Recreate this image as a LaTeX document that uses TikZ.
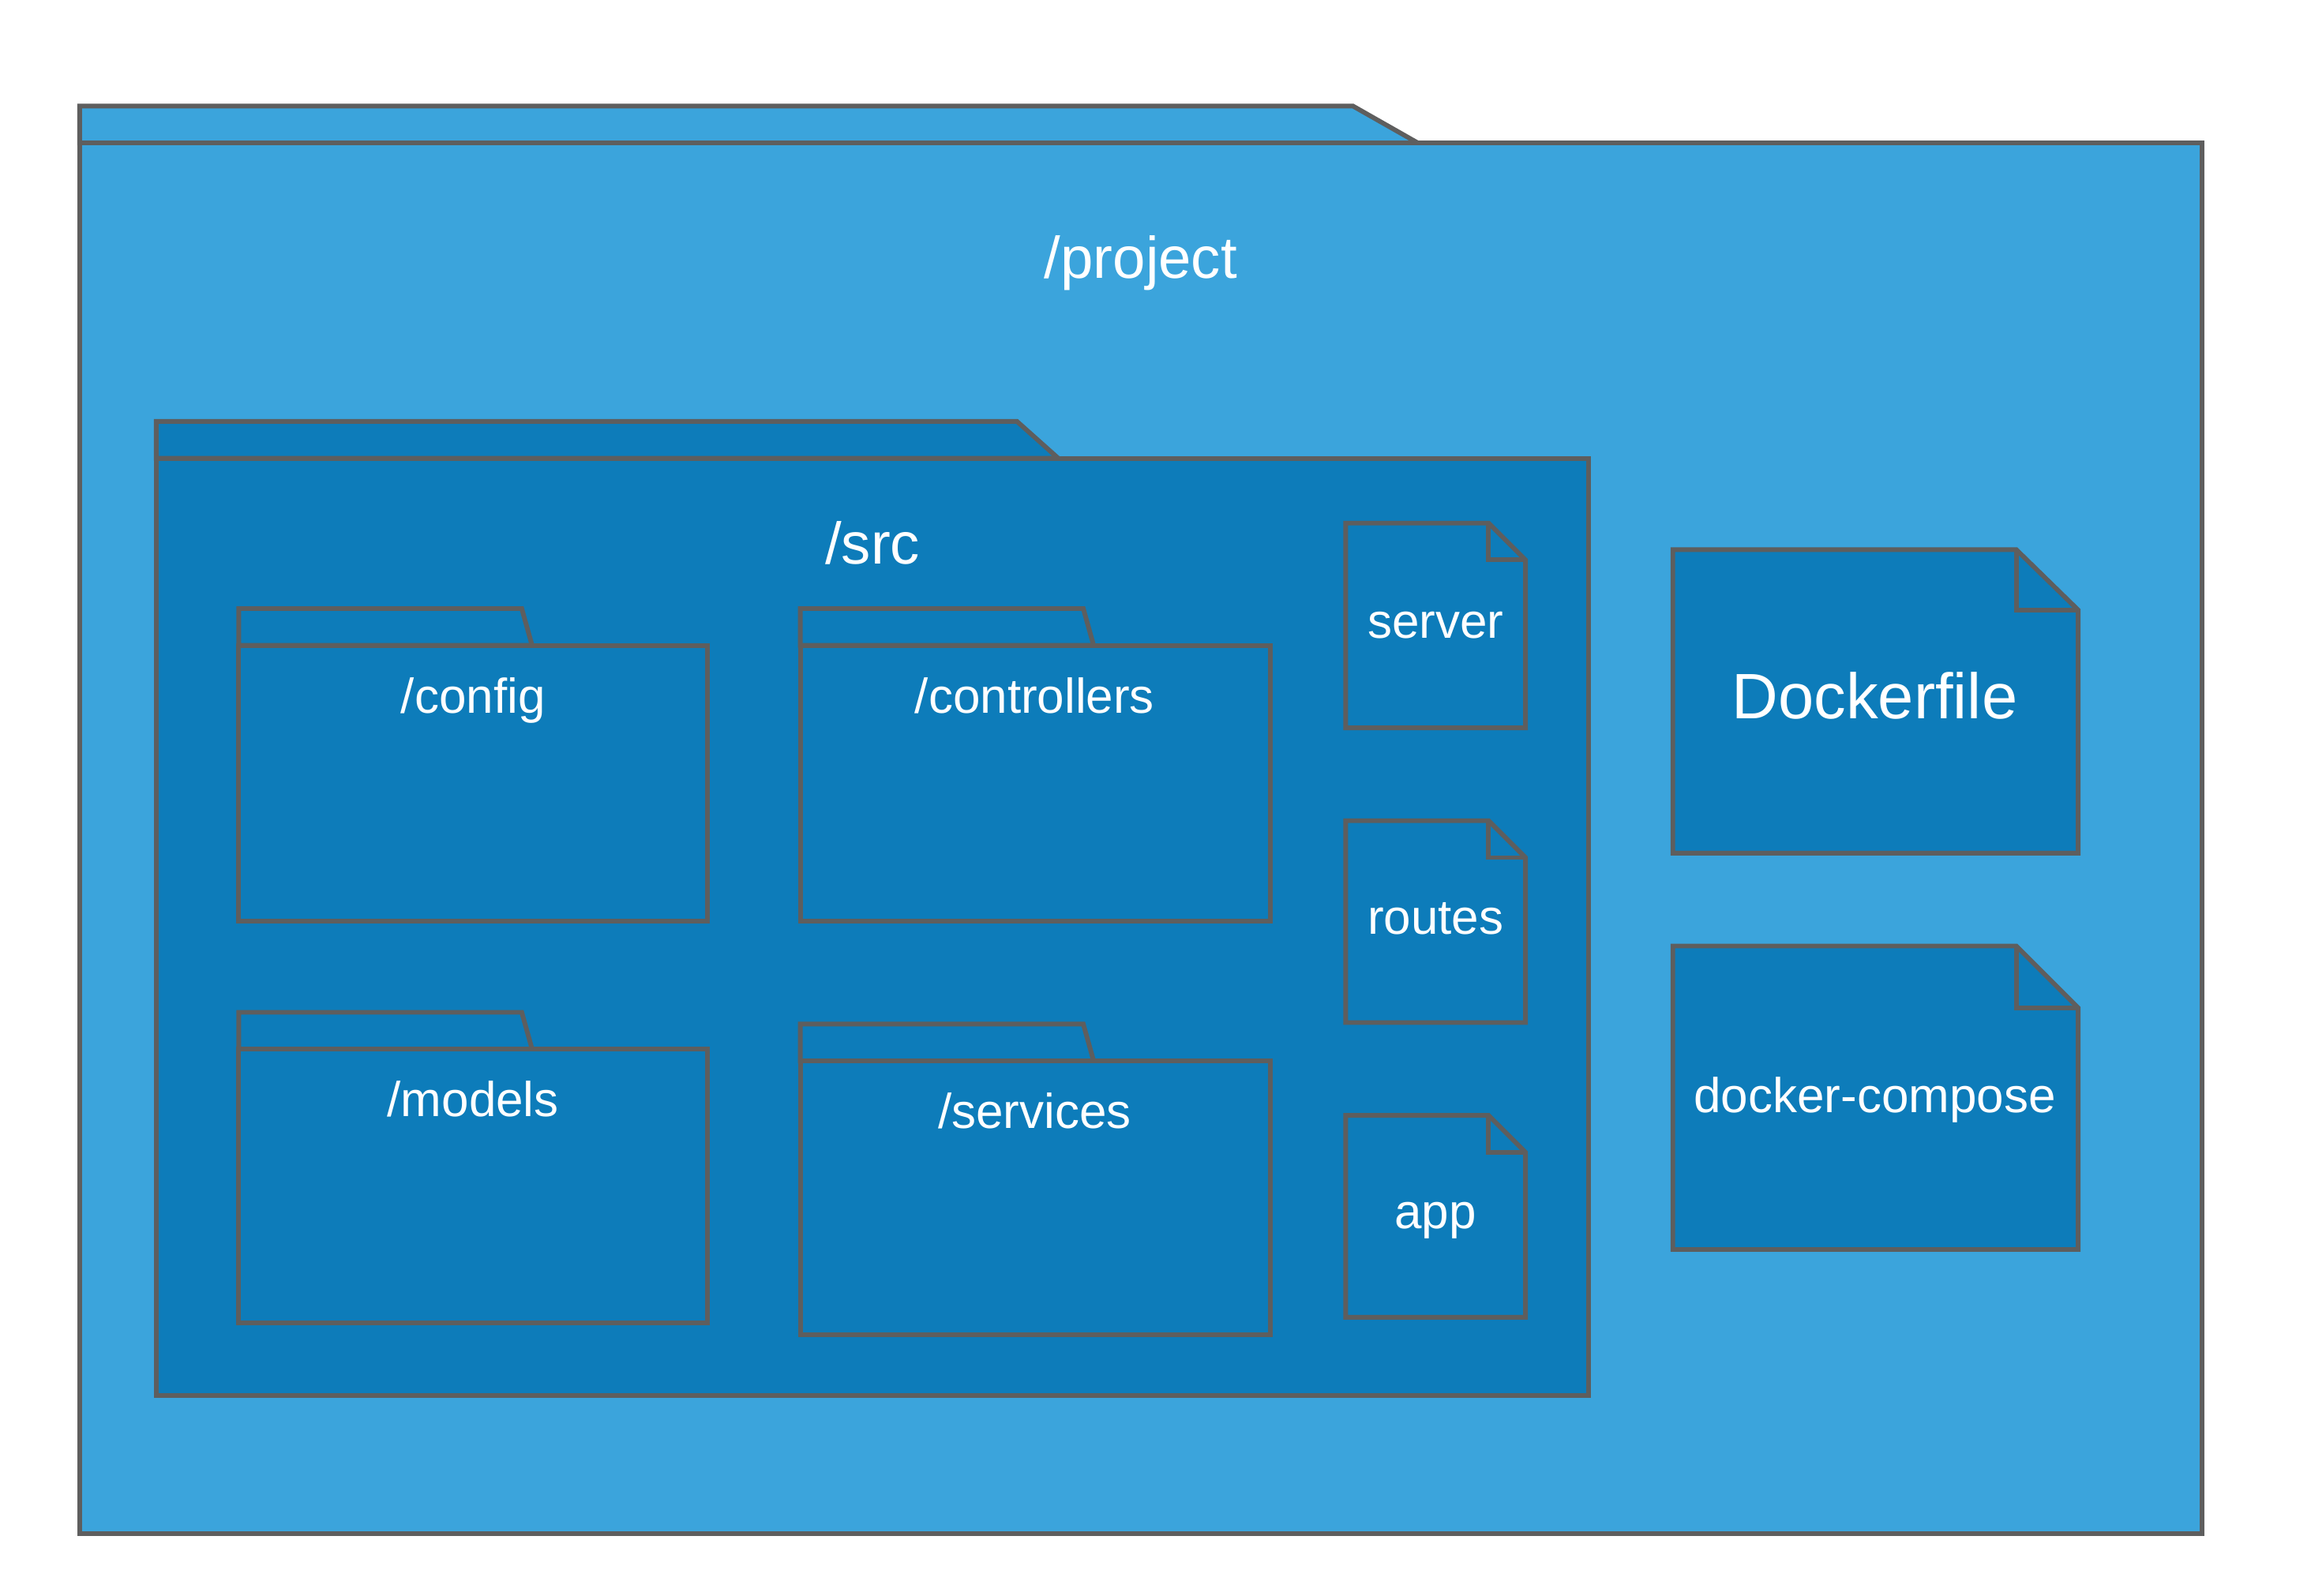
\documentclass[tikz,border=0pt]{standalone}
\usepackage{fontspec}
\setmainfont{Liberation Sans}
\usetikzlibrary{positioning}
\definecolor{ProjectBlue}{HTML}{3BA4DC}
\definecolor{SrcBlue}{HTML}{0D7CBA}
\definecolor{EdgeGray}{HTML}{5E5E5E}
\tikzstyle{Outline}=[draw=EdgeGray, line width=1.8pt]
\tikzstyle{OuterFolder}=[Outline, fill=ProjectBlue]
\tikzstyle{InnerFolder}=[Outline, fill=SrcBlue]
\tikzstyle{FileNote}=[Outline, fill=SrcBlue]
\tikzstyle{LabelText}=[text=white, inner sep=0pt, yshift=-1.7pt]
\tikzstyle{BigLabel}=[LabelText, font=\fontsize{22.7}{26}\selectfont, text height=17pt, text depth=4.8pt]
\tikzstyle{SmallLabel}=[LabelText, font=\fontsize{18.9}{22}\selectfont, text height=14.2pt, text depth=4pt]
\tikzstyle{HugeLabel}=[LabelText, font=\fontsize{24.8}{29}\selectfont, text height=18.6pt, text depth=5.2pt]

\begin{document}
\begin{tikzpicture}[x=0.02cm, y=-0.02cm]
\useasboundingbox (0,0) rectangle (1568,1083);

% /project
\draw[OuterFolder] (54,72) -- (918,72) -- (962,97) -- (54,97) -- cycle;
\draw[OuterFolder] (54,97) rectangle (1494,1041);
\node[BigLabel](project) at (774,175) {/project};

% /src
\draw[InnerFolder] (106,286) -- (690,286) -- (718,311) -- (106,311) -- cycle;
\draw[InnerFolder] (106,311) rectangle (1078,947);
\node[BigLabel](src) at (592,369) {/src};

% sub folders
\draw[InnerFolder] (162,413) -- (354,413) -- (361,438) -- (162,438) -- cycle;
\draw[InnerFolder] (162,438) rectangle (480,625);
\node[SmallLabel](config) at (321,472) {/config};

\draw[InnerFolder] (543,413) -- (735,413) -- (742,438) -- (543,438) -- cycle;
\draw[InnerFolder] (543,438) rectangle (862,625);
\node[SmallLabel](controllers) at (702,472) {/controllers};

\draw[InnerFolder] (162,687) -- (354,687) -- (361,712) -- (162,712) -- cycle;
\draw[InnerFolder] (162,712) rectangle (480,898);
\node[SmallLabel](models) at (321,746) {/models};

\draw[InnerFolder] (543,695) -- (735,695) -- (742,720) -- (543,720) -- cycle;
\draw[InnerFolder] (543,720) rectangle (862,906);
\node[SmallLabel](services) at (702,754) {/services};

% files in /src
\draw[FileNote] (913,355) -- (1010,355) -- (1035,380) -- (1035,494) -- (913,494) -- cycle;
\draw[Outline] (1010,355) -- (1010,380) -- (1035,380);
\node[SmallLabel](server) at (974,421) {server};

\draw[FileNote] (913,557) -- (1010,557) -- (1035,582) -- (1035,694) -- (913,694) -- cycle;
\draw[Outline] (1010,557) -- (1010,582) -- (1035,582);
\node[SmallLabel](routes) at (974,622) {routes};

\draw[FileNote] (913,757) -- (1010,757) -- (1035,782) -- (1035,894) -- (913,894) -- cycle;
\draw[Outline] (1010,757) -- (1010,782) -- (1035,782);
\node[SmallLabel](app) at (974,822) {app};

% files in /project
\draw[FileNote] (1135,373) -- (1368,373) -- (1410,414) -- (1410,579) -- (1135,579) -- cycle;
\draw[Outline] (1368,373) -- (1368,414) -- (1410,414);
\node[HugeLabel](dockerfile) at (1272,473) {Dockerfile};

\draw[FileNote] (1135,642) -- (1368,642) -- (1410,684) -- (1410,848) -- (1135,848) -- cycle;
\draw[Outline] (1368,642) -- (1368,684) -- (1410,684);
\node[SmallLabel](compose) at (1272,743) {docker-compose};
\end{tikzpicture}
\end{document}
